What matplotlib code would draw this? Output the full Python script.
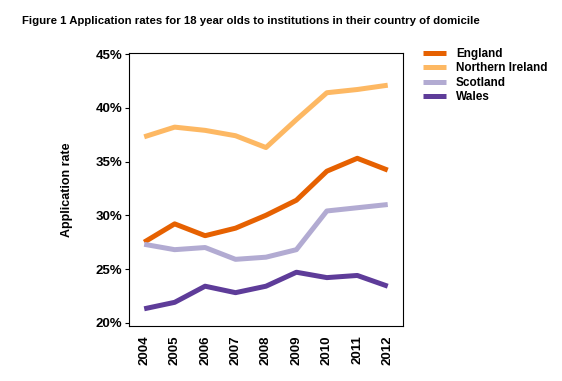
import matplotlib
matplotlib.use("Agg")
import matplotlib.pyplot as plt
from matplotlib.ticker import FuncFormatter

plt.rcParams['font.family'] = ['Liberation Sans', 'DejaVu Sans']
plt.rcParams['font.weight'] = 'bold'

years = ['2004', '2005', '2006', '2007', '2008', '2009', '2010', '2011', '2012']
england = [27.5, 29.2, 28.1, 28.8, 30.0, 31.4, 34.1, 35.3, 34.2]
northern_ireland = [37.3, 38.2, 37.9, 37.4, 36.3, 38.9, 41.4, 41.7, 42.1]
scotland = [27.3, 26.8, 27.0, 25.9, 26.1, 26.8, 30.4, 30.7, 31.0]
wales = [21.3, 21.9, 23.4, 22.8, 23.4, 24.7, 24.2, 24.4, 23.4]

series = [
    ('England', england, '#e66101'),
    ('Northern Ireland', northern_ireland, '#fdb863'),
    ('Scotland', scotland, '#b2abd2'),
    ('Wales', wales, '#5e3c99'),
]

fig = plt.figure(figsize=(5.62, 3.81), dpi=100)
ax = fig.add_axes([0.2295, 0.1444, 0.4875, 0.7166])

x = list(range(len(years)))
for name, vals, col in series:
    ax.plot(x, vals, color=col, lw=3.6, label=name, solid_capstyle='butt')

ax.set_xlim(-0.5, 8.5)
ax.set_ylim(19.7, 45.1)
ax.set_yticks([20, 25, 30, 35, 40, 45])
ax.yaxis.set_major_formatter(FuncFormatter(lambda v, p: f"{v:.0f}%"))
ax.set_xticks(x)
ax.set_xticklabels(years, rotation=90)
ax.tick_params(axis='x', length=0, pad=7, labelsize=9.5)
ax.tick_params(axis='y', length=3, width=0.8, pad=2, labelsize=9.5)
for s in ax.spines.values():
    s.set_linewidth(0.8)

ax.set_ylabel('Application rate', fontsize=9, fontweight='bold', labelpad=16)

fig.text(0.039, 0.945, 'Figure 1 Application rates for 18 year olds to institutions in their country of domicile',
         fontsize=8.2, fontweight='bold', va='center')

ax.legend(loc='upper left', bbox_to_anchor=(1.055, 1.035), frameon=False,
          fontsize=8.5, handlelength=2.0, handletextpad=0.8, labelspacing=0.2,
          borderaxespad=0)

fig.savefig('out.png', dpi=100)
